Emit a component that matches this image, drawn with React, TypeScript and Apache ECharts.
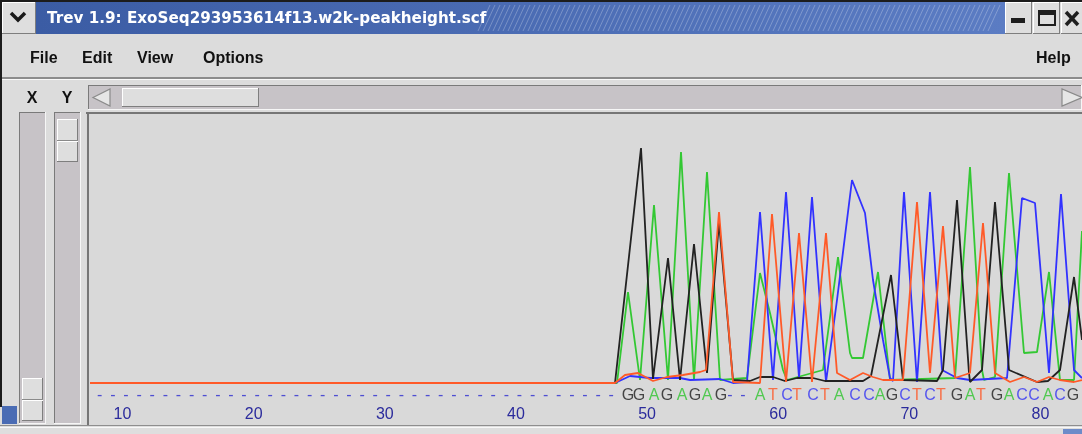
import React, { useEffect, useRef } from "react";
import * as echarts from "echarts";

// ---- DATA ----
// Trace vertices: [scan position, signal]
const traceA: [number, number][] = [
  [90, 0], [617, 0], [628, 91], [640, 3], [654, 178], [668, 3], [681, 231], [694, 3], [707, 211], [720, 3],
  [747, 5], [760, 110], [770, 70], [783, 13], [787, 3], [823, 13], [838, 126], [850, 30], [852, 25], [863, 25],
  [878, 111], [890, 3], [955, 5], [970, 216], [982, 13], [984, 3], [995, 6], [1009, 210], [1024, 30], [1037, 31],
  [1049, 111], [1060, 3], [1074, 3], [1082, 152],
];
const traceC: [number, number][] = [
  [90, 0], [615, 0], [630, 7], [650, 5], [680, 5], [690, 3], [720, 4], [733, 0], [747, 1], [760, 171],
  [773, 3], [786, 191], [799, 5], [812, 186], [826, 1], [837, 83], [852, 203], [865, 170], [873, 103], [883, 43],
  [890, 5], [893, 2], [904, 191], [917, 1], [930, 191], [942, 13], [957, 5], [970, 3], [1007, 5], [1022, 185],
  [1035, 180], [1049, 10], [1061, 189], [1074, 13], [1082, 5],
];
const traceG: [number, number][] = [
  [90, 0], [615, 0], [641, 235], [653, 4], [668, 125], [680, 3], [694, 139], [707, 10], [719, 161], [733, 3],
  [750, 2], [760, 6], [773, 6], [785, 2], [797, 5], [813, 5], [825, 2], [863, 2], [871, 7], [891, 108],
  [903, 3], [937, 2], [943, 13], [957, 183], [969, 10], [970, 1], [982, 13], [995, 181], [1009, 13], [1037, 1],
  [1048, 2], [1060, 13], [1074, 106], [1082, 43],
];
const traceT: [number, number][] = [
  [90, 0], [615, 0], [625, 8], [638, 10], [653, 2], [667, 6], [683, 8], [700, 11], [706, 13], [719, 171],
  [733, 1], [760, 0], [772, 169], [786, 1], [799, 150], [812, 1], [826, 150], [837, 10], [850, 3], [863, 10],
  [873, 6], [883, 3], [903, 3], [917, 181], [930, 10], [943, 157], [955, 5], [970, 10], [983, 160], [995, 10],
  [1010, 1], [1024, 6], [1037, 1], [1049, 6], [1060, 3], [1074, 1], [1082, 3],
];

// Uncalled bases (shown as "-") by base number
const gapBases = [8, 9, 10, 11, 12, 13, 14, 15, 16, 17, 18, 19, 20, 21, 22, 23, 24, 25, 26, 27,
  28, 29, 30, 31, 32, 33, 34, 35, 36, 37, 38, 39, 40, 41, 42, 43, 44, 45, 46, 47];
// Called bases and their scan positions
const calledBases = "GGAGAGAG--ATCTCTACCAGCTCTGATGACCACG";
const calledScans = [628, 639, 654, 667, 682, 695, 707, 721, 730, 743, 760, 773, 787, 797, 813, 825, 839, 855,
  869, 880, 892, 905, 917, 930, 941, 957, 970, 981, 997, 1009, 1022, 1034, 1048, 1060, 1073];
// Ruler tick labels (base numbers)
const rulerTicks = [10, 20, 30, 40, 50, 60, 70, 80];

const menuItems = ["File", "Edit", "View", "Options"];
const titleText = "Trev 1.9: ExoSeq293953614f13.w2k-peakheight.scf";

const baseColor: Record<string, string> = {
  A: "#2ec42e", C: "#3434f4", G: "#1e1e1e", T: "#ff5524", "-": "#2a2ad0",
};

const SANS = "Liberation Sans";

function rect(x: number, y: number, w: number, h: number, fill: any, z = 0, extra: any = {}) {
  return { type: "rect", shape: { x, y, width: w, height: h }, style: { fill, ...extra }, z, silent: true };
}
function ln(x1: number, y1: number, x2: number, y2: number, stroke: string, lw = 1, z = 1) {
  return { type: "line", shape: { x1, y1, x2, y2 }, style: { stroke, lineWidth: lw }, z, silent: true };
}
function txt(x: number, y: number, t: string, size: number, fill: string, weight = "bold", align = "left", family = SANS) {
  return {
    type: "text", x, y, z: 2, silent: true,
    style: { text: t, fontSize: size, fontWeight: weight, fontFamily: family, fill, align, verticalAlign: "middle" },
  };
}
function bevel(x: number, y: number, w: number, h: number, fill: string) {
  return [
    rect(x, y, w, h, fill, 1),
    ln(x, y + 0.5, x + w, y + 0.5, "#ffffff", 1, 2),
    ln(x + 0.5, y, x + 0.5, y + h, "#ffffff", 1, 2),
    ln(x, y + h - 0.5, x + w, y + h - 0.5, "#7e7e7e", 1, 2),
    ln(x + w - 0.5, y, x + w - 0.5, y + h, "#7e7e7e", 1, 2),
  ];
}
function sunken(x: number, y: number, w: number, h: number, fill: string) {
  return [
    rect(x, y, w, h, fill, 0),
    ln(x, y + 0.5, x + w, y + 0.5, "#7a7a7a", 1, 1),
    ln(x + 0.5, y, x + 0.5, y + h, "#7a7a7a", 1, 1),
    ln(x, y + h - 0.5, x + w, y + h - 0.5, "#f6f6f6", 1, 1),
    ln(x + w - 0.5, y, x + w - 0.5, y + h, "#f6f6f6", 1, 1),
  ];
}

function buildChrome() {
  const g: any[] = [];
  g.push(rect(0, 0, 1082, 434, "#dcdcdc", -1));
  // window frame
  g.push(rect(0, 0, 1082, 2, "#1c1c1c", 3));
  g.push(rect(0, 0, 2, 407, "#1c1c1c", 3));
  // window menu button
  g.push(...bevel(2, 2, 34, 32, "#dedede"));
  g.push({ type: "polyline", shape: { points: [[11, 13], [18, 20], [25, 13]] }, style: { stroke: "#1a1a1a", lineWidth: 3.5, fill: null }, z: 3, silent: true });
  // title bar
  g.push(rect(36, 2, 969, 32, new echarts.graphic.LinearGradient(0, 0, 1, 0, [
    { offset: 0, color: "#3b5ca4" }, { offset: 1, color: "#5b7cc3" },
  ]), 0));
  for (let x = 478; x + 12 <= 1002; x += 5) {
    g.push(ln(x, 31, x + 12, 5, "rgba(255,255,255,0.25)", 1, 1));
  }
  g.push(txt(47, 18, titleText, 15.2, "#ffffff", "bold", "left", "DejaVu Sans"));
  // title buttons
  g.push(...bevel(1005, 2, 27, 32, "#dedede"));
  g.push(...bevel(1033, 2, 27, 32, "#dedede"));
  g.push(...bevel(1061, 2, 24, 32, "#dedede"));
  g.push(rect(1011, 18, 14, 5, "#1e1e1e", 3));
  g.push(rect(1039, 11, 16, 14, "none", 3, { stroke: "#1e1e1e", lineWidth: 2 }));
  g.push(rect(1039, 11, 16, 4, "#1e1e1e", 3));
  g.push(ln(1066, 12, 1078, 25, "#1e1e1e", 3.5, 3));
  g.push(ln(1078, 12, 1066, 25, "#1e1e1e", 3.5, 3));
  // menu bar
  const menuX = [30, 82, 137, 203];
  menuItems.forEach((m, i) => g.push(txt(menuX[i], 57, m, 16, "#111111")));
  g.push(txt(1036, 57, "Help", 16, "#111111"));
  g.push(rect(0, 77, 1082, 2, "#8c8c8c", 1));
  g.push(rect(0, 79, 1082, 1, "#f8f8f8", 1));
  // X / Y labels
  g.push(txt(32, 97, "X", 16, "#111111", "bold", "center"));
  g.push(txt(67, 97, "Y", 16, "#111111", "bold", "center"));
  // horizontal scrollbar
  g.push(...sunken(88, 85, 994, 25, "#c7c3c7"));
  g.push({ type: "polygon", shape: { points: [[93, 97.5], [110, 89], [110, 106]] }, style: { fill: "#e6e6e6", stroke: "#8a8a8a", lineWidth: 1.2 }, z: 2, silent: true });
  g.push({ type: "polygon", shape: { points: [[1082, 97.5], [1062, 89], [1062, 106]] }, style: { fill: "#e6e6e6", stroke: "#8a8a8a", lineWidth: 1.2 }, z: 2, silent: true });
  g.push(...bevel(122, 88, 137, 19, "#dedede"));
  // vertical sliders
  g.push(...sunken(19, 112, 27, 312, "#c7c3c7"));
  g.push(...bevel(22, 378, 21, 43, "#dedede"));
  g.push(ln(22, 399.5, 43, 399.5, "#8a8a8a", 1, 3));
  g.push(ln(22, 400.5, 43, 400.5, "#ffffff", 1, 3));
  g.push(...sunken(54, 112, 27, 312, "#c7c3c7"));
  g.push(...bevel(57, 119, 21, 43, "#dedede"));
  g.push(ln(57, 140.5, 78, 140.5, "#8a8a8a", 1, 3));
  g.push(ln(57, 141.5, 78, 141.5, "#ffffff", 1, 3));
  // plot frame
  g.push(rect(86, 112, 996, 313, "#d9d9d9", 0));
  g.push(ln(88, 113, 88, 425, "#767676", 2, 1));
  g.push(ln(86, 113, 1082, 113, "#767676", 2, 1));
  // bottom edge
  g.push(rect(0, 425, 1082, 9, "#dedede", 0));
  g.push(ln(0, 425.5, 1082, 425.5, "#8e8e8e", 1, 1));
  g.push(ln(0, 427.5, 1082, 427.5, "#f8f8f8", 1, 1));
  g.push(rect(2, 406, 15, 18, "#4a6cb4", 3));
  g.push(rect(1063, 429, 19, 5, "#6d8bc9", 3));
  return g;
}

function traceSeries(data: [number, number][], color: string, z: number) {
  return {
    type: "line", data, xAxisIndex: 0, yAxisIndex: 0, symbol: "none", showSymbol: false,
    lineStyle: { color, width: 1.8 }, z, silent: true, clip: true,
  };
}

export default function App() {
  const ref = useRef<HTMLDivElement>(null);
  useEffect(() => {
    if (!ref.current) return;
    const chart = echarts.init(ref.current, null, { renderer: "svg" });
    const gapData = gapBases.map((b) => ({ name: "-", value: [b, -11], label: { color: baseColor["-"] } }));
    const callData = calledBases.split("").map((c, i) => ({
      name: c, value: [calledScans[i], -11], label: { color: baseColor[c] },
    }));
    const labelStyle = { show: true, position: "inside", formatter: "{b}", fontSize: 16, fontFamily: SANS };
    chart.setOption({
      animation: false,
      graphic: { elements: buildChrome() },
      grid: { left: 90, right: 0, top: 117, bottom: 29, containLabel: false },
      xAxis: [
        { type: "value", min: 90, max: 1082, show: false, position: "top" },
        {
          type: "value", min: 7.522, max: 83.166, position: "bottom",
          axisLine: { show: false }, axisTick: { show: false }, splitLine: { show: false },
          axisLabel: { customValues: rulerTicks, color: "#2b2b9c", fontSize: 16, fontFamily: SANS, margin: 0 },
        },
      ],
      yAxis: { type: "value", min: -22, max: 266, show: false },
      series: [
        traceSeries(traceA, "#33c833", 3),
        traceSeries(traceC, "#3232ff", 4),
        traceSeries(traceG, "#222222", 5),
        traceSeries(traceT, "#ff5a28", 6),
        {
          type: "scatter", xAxisIndex: 1, data: gapData, symbolSize: 1,
          itemStyle: { color: "rgba(0,0,0,0)" }, label: { ...labelStyle, offset: [3.5, 0] }, z: 7, silent: true,
        },
        {
          type: "scatter", xAxisIndex: 0, data: callData, symbolSize: 1,
          itemStyle: { color: "rgba(0,0,0,0)" }, label: labelStyle, z: 7, silent: true,
        },
      ],
    });
    return () => chart.dispose();
  }, []);
  return <div ref={ref} style={{ position: "fixed", left: 0, top: 0, width: 1082, height: 434 }} />;
}
